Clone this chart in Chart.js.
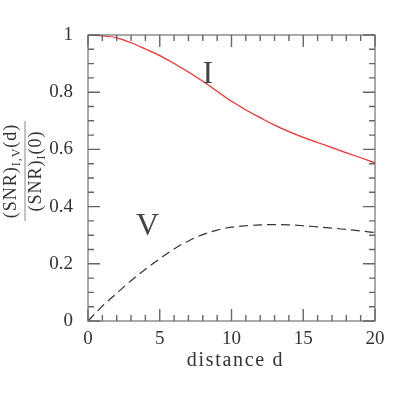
<!DOCTYPE html>
<html>
<head>
<meta charset="utf-8">
<script src="https://cdn.jsdelivr.net/npm/chart.js@4"></script>
<style>
  html, body { margin:0; padding:0; background:#fff; }
  #wrap { width:409px; height:409px; }
</style>
</head>
<body>
<div id="wrap"><canvas id="snrChart" width="409" height="409"></canvas></div>
<script>
// values
const distance = [0,1,2,3,4,5,6,7,8,9,10,11,12,13,14,15,16,17,18,19,20];
const snrI = [1.0,0.997,0.99,0.973,0.951,0.928,0.90,0.871,0.838,0.803,0.768,0.738,0.711,0.685,0.662,0.642,0.624,0.606,0.588,0.571,0.553];
const snrV = [0,0.052,0.097,0.141,0.181,0.218,0.252,0.280,0.302,0.318,0.328,0.333,0.336,0.337,0.336,0.333,0.329,0.325,0.320,0.315,0.309];
const xTicks = [0,5,10,15,20];
const yTicks = [0,0.2,0.4,0.6,0.8,1];
const yTickLabels = ['0','0.2','0.4','0.6','0.8','1'];
const curveLabels = [
  { text:'I', x:8.35, y:0.862 },
  { text:'V', x:4.15, y:0.33 }
];

const SERIF = '"Liberation Serif", "DejaVu Serif", serif';

// frame, inward ticks on all sides, axis titles and curve labels
const decorations = {
  id:'decorations',
  afterDraw(chart){
    const {ctx, chartArea:a, scales:{x, y}} = chart;
    ctx.save();
    ctx.strokeStyle = '#555';
    ctx.lineWidth = 1;
    ctx.strokeRect(a.left, a.top, a.right-a.left, a.bottom-a.top);

    ctx.strokeStyle = '#666';
    ctx.lineWidth = 1.4;
    ctx.beginPath();
    for(let v=0; v<=20; v++){
      const px = x.getPixelForValue(v);
      const len = v%5===0 ? 12 : 6;
      ctx.moveTo(px, a.bottom); ctx.lineTo(px, a.bottom-len);
      ctx.moveTo(px, a.top); ctx.lineTo(px, a.top+len);
    }
    for(let k=0; k<=20; k++){
      const py = y.getPixelForValue(k*0.05);
      const len = k%4===0 ? 12 : 6;
      ctx.moveTo(a.left, py); ctx.lineTo(a.left+len, py);
      ctx.moveTo(a.right, py); ctx.lineTo(a.right-len, py);
    }
    ctx.stroke();

    // x title
    ctx.fillStyle = '#333';
    ctx.font = '20px ' + SERIF;
    ctx.letterSpacing = '1.7px';
    ctx.textAlign = 'center';
    ctx.textBaseline = 'alphabetic';
    ctx.fillText('distance d', (a.left+a.right)/2 + 4, 366);

    // y title as a rotated fraction
    ctx.save();
    ctx.translate(25, 171);
    ctx.rotate(-Math.PI/2);
    ctx.letterSpacing = '1px';
    const drawParts = (parts, base) => {
      let w = 0;
      parts.forEach(p => { ctx.font = p.size+'px '+SERIF; w += ctx.measureText(p.t).width; });
      let u = -w/2;
      ctx.textAlign = 'left';
      parts.forEach(p => {
        ctx.font = p.size+'px '+SERIF;
        ctx.fillText(p.t, u, base + (p.sub ? 4 : 0));
        u += ctx.measureText(p.t).width;
      });
    };
    drawParts([{t:'(SNR)',size:18},{t:'I,V',size:12,sub:true},{t:'(d)',size:18}], -9);
    drawParts([{t:'(SNR)',size:18},{t:'I',size:12,sub:true},{t:'(0)',size:18}], 16);
    ctx.strokeStyle = '#888';
    ctx.lineWidth = 1;
    ctx.beginPath();
    ctx.moveTo(-50, 0); ctx.lineTo(50, 0);
    ctx.stroke();
    ctx.restore();

    // curve labels
    ctx.letterSpacing = '0px';
    ctx.font = '32px ' + SERIF;
    ctx.textAlign = 'center';
    ctx.textBaseline = 'middle';
    ctx.fillStyle = '#444';
    curveLabels.forEach(l => ctx.fillText(l.text, x.getPixelForValue(l.x), y.getPixelForValue(l.y)));
    ctx.restore();
  }
};

new Chart(document.getElementById('snrChart').getContext('2d'), {
  type:'line',
  data:{
    datasets:[
      { label:'I', data: distance.map((d,i)=>({x:d, y:snrI[i]})),
        borderColor:'#ff2a2a', borderWidth:1.2, pointRadius:0, tension:0.4, cubicInterpolationMode:'monotone' },
      { label:'V', data: distance.map((d,i)=>({x:d, y:snrV[i]})),
        borderColor:'#333', borderWidth:1.2, borderDash:[9,5], pointRadius:0, tension:0.4, cubicInterpolationMode:'monotone' }
    ]
  },
  options:{
    responsive:false, animation:false,
    layout:{ padding:{ left:0, top:35, right:34, bottom:0 } },
    plugins:{ legend:{ display:false }, tooltip:{ enabled:false } },
    scales:{
      x:{
        type:'linear', min:0, max:20,
        afterBuildTicks: s => { s.ticks = xTicks.map(v=>({value:v})); },
        afterFit: s => { s.height = 88; },
        grid:{ display:false }, border:{ display:false },
        ticks:{ font:{ family:SERIF, size:19 }, color:'#333', padding:-1, maxRotation:0 }
      },
      y:{
        min:0, max:1,
        afterBuildTicks: s => { s.ticks = yTicks.map(v=>({value:v})); },
        afterFit: s => { s.width = 88; },
        grid:{ display:false }, border:{ display:false },
        ticks:{ font:{ family:SERIF, size:19 }, color:'#333', padding:7,
          callback: v => yTickLabels[yTicks.indexOf(v)] ?? '' }
      }
    }
  },
  plugins:[decorations]
});
</script>
</body>
</html>
